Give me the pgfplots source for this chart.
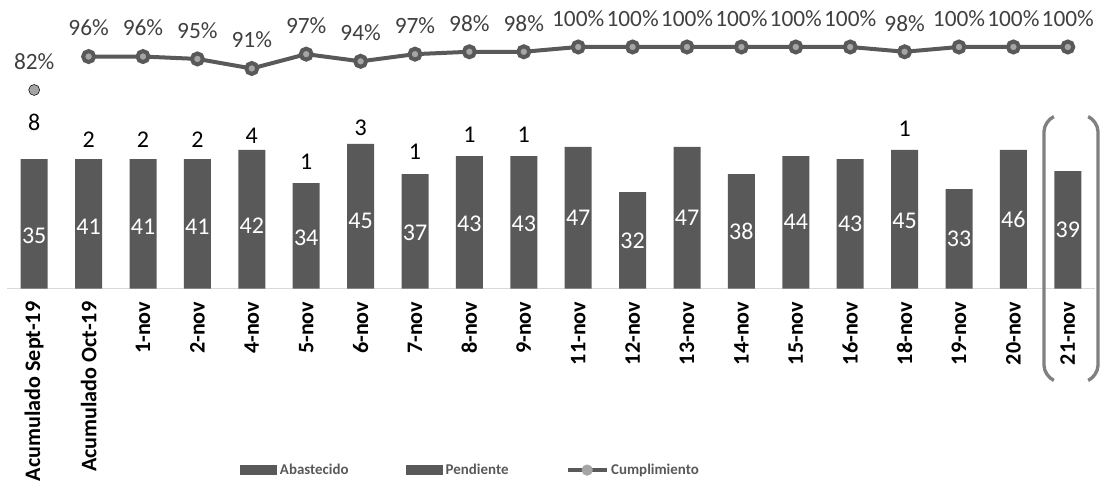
\documentclass[border=0pt]{standalone}
\usepackage{pgfplots}
\pgfplotsset{compat=1.18}
\usepackage{pgfplotstable}
\usepackage{fontspec}
\setmainfont{Carlito}
\definecolor{barc}{HTML}{595959}
\definecolor{mk}{HTML}{A5A5A5}
\definecolor{pct}{HTML}{404040}
\definecolor{basec}{HTML}{D9D9D9}
\definecolor{brk}{HTML}{808080}

\pgfplotstableread{
x ab pe
0 35 8
1 41 2
2 41 2
3 41 2
4 42 4
5 34 1
6 45 3
7 37 1
8 43 1
9 43 1
10 47 0
11 32 0
12 47 0
13 38 0
14 44 0
15 43 0
16 45 1
17 33 0
18 46 0
19 39 0
}\datos

\pgfplotstableread{
x ly lab
0 55.1 8
1 49.5 2
2 49.5 2
3 49.5 2
4 50.8 4
5 42.2 1
6 53.3 3
7 45.5 1
8 51.2 1
9 51.2 1
16 53.0 1
}\penlab

\pgfplotstableread{
x cu
1 96
2 96
3 95
4 91
5 97
6 94
7 97
8 98
9 98
10 100
11 100
12 100
13 100
14 100
15 100
16 98
17 100
18 100
19 100
}\cumpl

\pgfplotsset{
  common/.style={
    at={(0pt,0pt)}, anchor=south west, scale only axis,
    width=816pt, height=208.9pt,
    xmin=-0.5, xmax=19.5,
  }
}

\begin{document}
\begin{tikzpicture}
\begin{scope}[x=0.75pt,y=-0.75pt,shift={(-7,-288.5)}]
  \useasboundingbox (0,0) rectangle (1103,489);
\end{scope}

% bars
\begin{axis}[common,
  ymin=0, ymax=92.5,
  ybar stacked, bar width=20.25pt,
  axis y line=none,
  axis x line*=bottom,
  x axis line style={draw=basec, line width=0.75pt, -},
  xtick={0,...,19},
  xticklabels={{Acumulado Sept-19},{Acumulado Oct-19},1-nov,2-nov,4-nov,5-nov,6-nov,7-nov,8-nov,9-nov,11-nov,12-nov,13-nov,14-nov,15-nov,16-nov,18-nov,19-nov,20-nov,21-nov},
  major tick length=0pt,
  xticklabel style={rotate=90, anchor=east, inner sep=0pt, xshift=-9.75pt,
    font=\bfseries\fontsize{16.6}{17}\selectfont, text=black},
  legend columns=3,
  legend style={draw=none, fill=none, inner sep=0pt,
    at={(0.2142,-0.652)}, anchor=west,
    font=\bfseries\fontsize{11.2}{12}\selectfont, text=barc,
    /tikz/every even column/.append style={column sep=41pt}},
]
\addplot[fill=barc, draw=none,
  legend image code/.code={\fill[barc] (0pt,-3.75pt) rectangle (27.75pt,3.75pt);}]
  table[x=x,y=ab]{\datos};
\addlegendentry{Abastecido}
\addplot[fill=barc, draw=none,
  legend image code/.code={\fill[barc] (0pt,-3.75pt) rectangle (27.75pt,3.75pt);}]
  table[x=x,y=pe]{\datos};
\addlegendentry{Pendiente}
\addlegendimage{legend image code/.code={
  \draw[barc, line width=3pt] (0pt,0pt) -- (29pt,0pt);
  \fill[mk] (14.5pt,0pt) circle (4pt);}}
\addlegendentry{Cumplimiento}
\end{axis}

% bar labels
\begin{axis}[common, ymin=0, ymax=92.5, hide axis]
\addplot[only marks, mark=*, mark size=0pt, draw=none,
  nodes near coords, point meta=explicit symbolic,
  every node near coord/.append style={anchor=center, text=white,
    font=\fontsize{18}{18}\selectfont}]
  table[x=x, y expr=\thisrow{ab}/2, meta=ab]{\datos};
\addplot[only marks, mark=*, mark size=0pt, draw=none,
  nodes near coords, point meta=explicit symbolic,
  every node near coord/.append style={anchor=center, text=black,
    font=\fontsize{18}{18}\selectfont}]
  table[x=x, y=ly, meta=lab]{\penlab};
\end{axis}

% Cumplimiento
\begin{axis}[common, ymin=-1.1, ymax=115.5, hide axis,
  /pgf/number format/assume math mode=true,
  nodes near coords={\pgfmathprintnumber[fixed,precision=0,assume math mode=true]{\pgfplotspointmeta}\%},
  every node near coord/.append style={anchor=center, yshift=21.4pt,
    text=pct, font=\fontsize{17.5}{18}\selectfont},
]
\addplot[color=barc, line width=3pt, mark=*, mark size=4.1pt,
  mark options={fill=mk, draw=none}]
  table[x=x,y=cu]{\cumpl};
\addplot[only marks, mark=*, mark size=4.1pt,
  mark options={fill=mk, draw=none}]
  coordinates {(0,82)};
\end{axis}

% bracket around 21-nov
\begin{scope}[x=0.75pt,y=-0.75pt,shift={(-7,-288.5)}]
  \draw[brk, line width=2.5pt, rounded corners=8pt]
    (1053,117) -- (1044,121) -- (1044,376) -- (1053,380);
  \draw[brk, line width=2.5pt, rounded corners=8pt]
    (1089,117) -- (1098,121) -- (1098,376) -- (1089,380);
\end{scope}
\end{tikzpicture}
\end{document}
